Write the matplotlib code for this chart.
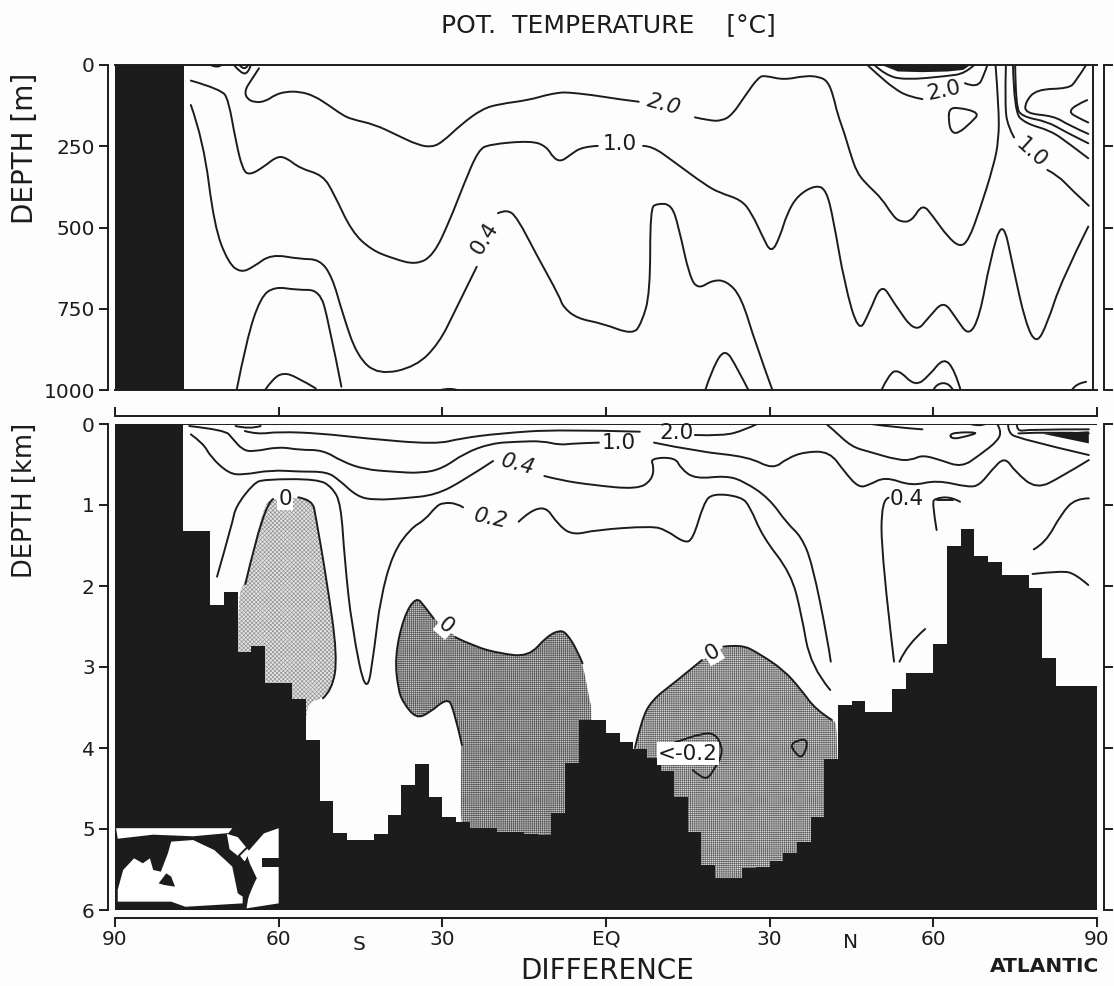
import numpy as np
import matplotlib
matplotlib.use('Agg')
import matplotlib.pyplot as plt
from matplotlib.path import Path
from matplotlib.patches import PathPatch

plt.rcParams['hatch.linewidth'] = 0.45

BLACK = '#1c1c1c'
LW = 1.4

# 해저 지형 (2.5도 격자, km)
floor_km = [0, 0, 0, 0, 0, 1.32, 1.32, 2.23, 2.07, 2.82, 2.74, 3.2, 3.2, 3.4, 3.9, 4.65, 5.05, 5.14, 5.14, 5.06,
            4.83, 4.46, 4.2, 4.6, 4.85, 4.91, 4.99, 4.99, 5.04, 5.04, 5.06, 5.07, 4.8, 4.19, 3.65, 3.65, 3.82, 3.93,
            4.01, 4.12, 4.28, 4.6, 5.04, 5.44, 5.6, 5.6, 5.48, 5.47, 5.4, 5.3, 5.16, 4.85, 4.14, 3.47, 3.42, 3.56,
            3.56, 3.27, 3.07, 3.07, 2.71, 1.5, 1.3, 1.63, 1.7, 1.87, 1.87, 2.02, 2.89, 3.23, 3.23, 3.23]
floor_edges = np.arange(-90, 90.1, 2.5)
land_top_lat = [-90, -77.3]

# 위쪽 패널 (0-1000 m)
t20a_lat = [-63.6, -65, -66.2, -65.9, -64.3, -62.3, -60.7, -58.7, -56.1, -53.5, -50.9, -48.3, -46.6, -42.4, -38.4, -34.5, -31.9, -29.9, -26.7, -22.7, -19.5, -14.2, -10.9, -8.5, -7.2, -2.6, 2.6, 6]
t20a_dep = [10, 46, 77, 103, 116, 111, 92, 82, 82, 95, 123, 154, 167, 183, 215, 246, 253, 236, 185, 135, 120, 108, 92, 85, 84, 92, 106, 113]
t20b_lat = [16.3, 18.9, 21.2, 23.1, 25.4, 28, 29.3, 32.6, 36.5, 39.1, 40.7, 41.7, 42.4, 43.7, 44.6, 46, 48.2, 50.5, 52.5, 53.8, 56, 58, 60, 62.6, 64.9, 66.5, 68.5, 71, 72, 72, 71.4]
t20b_dep = [161, 171, 172, 154, 97, 36, 33, 46, 33, 36, 51, 97, 149, 210, 262, 333, 374, 410, 462, 482, 482, 426, 467, 528, 561, 538, 446, 313, 231, 128, 0]
t10a_lat = [-76.1, -70.5, -69.2, -67.9, -66.6, -65.3, -62.7, -60.4, -58.7, -56.1, -51.9, -49.9, -46.6, -43, -39.1, -34.8, -31.6, -28.6, -26, -23.4, -21.4, -13.6, -10.9, -9.6, -8.2, -6.6, -4.3, -1.5]
t10a_dep = [48, 75, 108, 231, 323, 339, 313, 282, 284, 318, 339, 395, 513, 569, 595, 615, 585, 477, 364, 262, 244, 233, 251, 287, 297, 277, 251, 249]
t10b_lat = [6.8, 8.4, 12.4, 18.2, 20.8, 24.8, 26.7, 28.7, 30.3, 31.9, 33.2, 35.2, 38.5, 40.4, 41.7, 43.7, 46.3, 48.2, 50.5, 52.8, 56.7, 59.3, 61.9, 64.2, 66.5, 68.5, 70.4, 72.7, 74.6, 76.9, 78.9, 80.9, 83.5, 88.4]
t10b_dep = [249, 249, 297, 369, 393, 415, 456, 528, 580, 528, 456, 400, 369, 385, 477, 672, 825, 764, 670, 733, 825, 774, 725, 780, 835, 774, 600, 470, 620, 795, 860, 795, 662, 497]
t04a_lat = [-76.1, -73.8, -71.8, -69.2, -66.9, -64.6, -61.4, -56.1, -52.5, -50.2, -48.3, -45.6, -41.7, -34.8, -30.6, -27.6, -23.7]
t04a_dep = [123, 231, 497, 610, 639, 621, 582, 597, 598, 651, 764, 897, 954, 928, 856, 754, 621]
t04b_lat = [-19.8, -18.1, -16.2, -12.9, -8.5, -7.9, -5.3, -0.7, 4.9, 6.5, 8.1, 8.1, 9.4, 12, 13.3, 15.3, 16.9, 19.5, 22.1, 24.8, 27.4, 30.5]
t04b_dep = [456, 443, 472, 579, 713, 744, 780, 795, 830, 795, 703, 441, 426, 429, 497, 651, 690, 662, 664, 713, 857, 1000]
t02a_lat = [-67.7, -65.9, -63.3, -60.7, -56.8, -52.5, -50.9, -48.5]
t02a_dep = [1000, 846, 713, 682, 692, 692, 785, 990]
t00a_lat = [-62.5, -61, -59.1, -56.8, -53.2]
t00a_dep = [1000, 964, 947, 959, 995]
t00b_lat = [-30.3, -28.6, -27.3]
t00b_dep = [1000, 993, 1000]
t_s1_lat = [-72.5, -71.2, -70.5]
t_s1_dep = [0, 10, 0]
t_s2_lat = [-68.2, -66.9, -65.6, -65.1]
t_s2_dep = [0, 26, 26, 0]
t_s3_lat = [-67.2, -66.2, -65.6]
t_s3_dep = [0, 20, 0]
t_r1_lat = [18.2, 19.5, 21.8, 24.1, 26.1]
t_r1_dep = [1000, 934, 870, 934, 1000]
t_r2_lat = [50.5, 51.8, 53.5, 56.7, 59.3, 61.9, 63.9, 65]
t_r2_dep = [1000, 954, 935, 990, 954, 900, 938, 1000]
t_r3_lat = [60, 60.6, 62.9, 63.6]
t_r3_dep = [1000, 980, 978, 1000]
t_r4_lat = [85.4, 86.1, 88]
t_r4_dep = [1000, 980, 975]
t_n1_lat = [47.9, 49.9, 52.8, 55.4, 58]
t_n1_dep = [0, 31, 72, 97, 105]
t_n2_lat = [65.8, 68.1, 69.4, 69.9]
t_n2_dep = [56, 72, 26, 0]
t_n3_lat = [49.2, 51.2, 54.8, 62.6, 65.8, 67.5]
t_n3_dep = [0, 31, 46, 34, 26, 0]
t_blob_lat = [50.5, 53.5, 58, 62.6, 65.5, 66.8]
t_blob_dep = [0, 20, 22, 20, 15, 0]
t_tri_lat = [62.9, 64.5, 68.5, 67.1, 64.5, 63.2, 62.8, 62.9]
t_tri_dep = [135, 130, 147, 174, 212, 205, 169, 135]
t_f1_lat = [73.3, 73.1, 73.7, 74.8]
t_f1_dep = [0, 128, 190, 223]
t_f2_lat = [75, 75.1, 76.3, 80.9, 84.1, 88.4]
t_f2_dep = [0, 128, 159, 174, 205, 241]
t_f3_lat = [74.6, 74.8, 76.9, 81.5, 84.8, 88.4]
t_f3_dep = [0, 144, 180, 202, 241, 287]
t_f4_lat = [88, 86.1, 84.8, 78.9, 76.9, 76.8, 82.1, 84.8, 88.4]
t_f4_dep = [0, 51, 72, 75, 113, 149, 157, 185, 212]
t_f5_lat = [88.2, 86.1, 84.9, 86.1, 88.4]
t_f5_dep = [108, 123, 144, 159, 177]
t_f6_lat = [80.9, 82.8, 85.4, 88.5]
t_f6_dep = [323, 339, 385, 433]

# 아래쪽 패널 (0-6 km)
b20a_lat = [-66.2, -64, -60, -52.2, -44.3, -31.2, -26.6, -19.5, -8.5, 6.2]
b20a_km = [.087, .128, .095, .116, .177, .251, .177, .116, .066, .095]
b20b_lat = [16.3, 21.5, 25.4, 27.7]
b20b_km = [.136, .148, .074, 0]
b20c_lat = [40.4, 41.7, 45, 48.2, 53.5, 56, 58, 61.3, 65.2, 68.5, 72, 72.4, 71.7]
b20c_km = [0, .074, .28, .342, .445, .445, .383, .445, .535, .383, .198, .074, 0]
b10a_lat = [-76.4, -69.8, -68.5, -66.6, -64.6, -60, -56.1, -51.9, -48.3, -44.3, -39.1, -33.8, -29.9, -26, -21.1, -16.2, -11.6, -8.5, -5.9, -1.3]
b10a_km = [.025, .074, .177, .321, .342, .28, .321, .321, .465, .56, .589, .609, .548, .362, .239, .218, .21, .26, .239, .23]
b10b_lat = [8.8, 16.9, 26.1, 30.6, 33.2, 36.5, 41, 43.7, 46.3, 48.2, 51.2, 56, 60.6, 66.5, 68.5, 70.7, 73.1, 75, 78.9, 83.5, 88.5]
b10b_km = [.23, .342, .404, .56, .424, .342, .342, .589, .786, .753, .65, .766, .692, .782, .753, .568, .404, .589, .807, .65, .445]
b04a_lat = [-76.1, -73.8, -72.5, -69.2, -66.6, -61.4, -56.1, -51.2, -48.9, -45.6, -42.4, -37.1, -31.2, -26, -20.7]
b04a_km = [.128, .239, .404, .609, .63, .568, .589, .589, .692, .897, .939, .918, .877, .692, .457]
b04b_lat = [-11.3, -8.5, -2.6, 5.8, 8.4, 8.8, 8.1, 12.7, 13.7, 16.3, 22.1, 25.4, 29.9, 33.2, 35.8, 37.8, 40.7, 41.2]
b04b_km = [.642, .692, .753, .807, .692, .527, .424, .412, .548, .679, .638, .712, .918, 1.227, 1.391, 1.72, 2.688, 2.934]
b02a_lat = [-71.3, -68.5, -67.9, -64.6, -62.7, -52.8, -50.2, -48.6, -47.9, -46.6, -43.9, -42.4, -41.4, -39.1, -35.8, -33.2, -31.2, -29.9, -27.3, -26.2]
b02a_km = [1.885, 1.227, 1.021, .733, .683, .679, .782, .98, 1.679, 2.502, 3.4, 2.749, 2.173, 1.597, 1.288, 1.185, 1.021, .971, .98, 1.029]
b02b_lat = [-16, -11.9, -8.5, -5.9, -2, 8.4, 11, 14.3, 15.9, 17.9, 19.5, 24.8, 26.4, 28.7, 33.9, 35.8, 37.5, 41.1]
b02b_km = [1.206, .94, 1.268, 1.371, 1.309, 1.26, 1.309, 1.465, 1.432, .98, .856, .897, 1.021, 1.391, 1.844, 2.337, 2.996, 3.284]
b_n1_lat = [52.8, 50.5, 50.5, 51.8]
b_n1_km = [2.934, 1.638, .93, .91]
b_n2_lat = [60.6, 59.8, 60.3, 63.2, 64.9]
b_n2_km = [1.309, .98, .918, .897, .96]
b_n3_lat = [60.6, 63.6]
b_n3_km = [.938, .938]
b_n4_lat = [53.8, 55.1, 58.5]
b_n4_km = [2.934, 2.73, 2.531]
b_n5_lat = [78.4, 80.5, 83.5, 86.1, 88.5]
b_n5_km = [1.548, 1.473, 1.103, .918, .918]
b_n6_lat = [78.2, 83.5, 86.1, 88.4]
b_n6_km = [1.852, 1.811, 1.852, 1.988]
b_n7_lat = [73.7, 73.7, 75.3, 88.5]
b_n7_km = [0, .095, .177, .383]
b_n8_lat = [62.9, 64.2, 68.5, 65.8, 63.6, 62.9]
b_n8_km = [.136, .103, .103, .157, .186, .136]
b_n9_lat = [66.8, 68.5, 69.5]
b_n9_km = [0, .03, 0]
b_n10_lat = [48.6, 52.8, 58]
b_n10_km = [0, .041, .066]
b_n11_lat = [75.3, 75.3, 77.6, 88.5]
b_n11_km = [0, .095, .066, .066]
b_n12_lat = [75.6, 82.1, 88.5]
b_n12_km = [.116, .095, .116]
b_n13_lat = [-67.9, -65.3, -63.3]
b_n13_km = [.025, .066, .025]
b_blob_lat = [80, 88.5, 88.5]
b_blob_km = [.12, .09, .24]
b_low_lat = [10.4, 13, 17.6, 19.9, 21.2, 21.2, 19.9, 18.6, 16.9, 15.9]
b_low_km = [3.984, 3.922, 3.82, 3.82, 3.963, 4.107, 4.251, 4.39, 4.333, 4.272]
b_tri_lat = [33.9, 34.9, 36.8, 36.8, 35.8, 34.5, 33.9]
b_tri_km = [3.963, 3.91, 3.89, 4.004, 4.13, 4.045, 3.963]

# 0도 등온선과 음영
z1a_lat = [-66.1, -62.7, -61]
z1a_km = [1.976, .98, .926]
z1b_lat = [-56.4, -53.8, -53.2, -51.2, -49.2, -50.2, -51.9]
z1b_km = [.905, .938, 1.144, 1.926, 2.873, 3.284, 3.387]
z1_close_lat = [-55, -55, -67.5, -67.5]
z1_close_km = [3.45, 3.95, 3.95, 2.07]
z2a_lat = [-26.4, -28, -29.2, -32.5, -34.8, -37.1, -38.1, -38.7, -37.1, -34.8, -33.2, -31.6]
z2a_km = [3.963, 3.49, 3.387, 3.572, 3.634, 3.449, 3.284, 2.873, 2.379, 2.13, 2.255, 2.4]
z2b_lat = [-27.6, -24, -19.5, -14.2, -10.9, -8.5, -7.2, -5.3, -4.3]
z2b_km = [2.634, 2.749, 2.832, 2.873, 2.626, 2.544, 2.585, 2.79, 2.955]
z2_close_lat = [-3, -2.6, -2.6, -26.6, -26.6]
z2_close_km = [3.408, 3.531, 5.5, 5.5, 4.0]
z3a_lat = [5.3, 6.5, 8.4, 12.4, 17.6]
z3a_km = [4.0, 3.654, 3.408, 3.202, 2.914]
z3b_lat = [21.5, 24.8, 28, 32.6, 35.8, 38.5, 41.4]
z3b_km = [2.749, 2.72, 2.832, 3.037, 3.284, 3.531, 3.654]
z3_close_lat = [42.5, 42.5, 5.3]
z3_close_km = [3.7, 5.7, 5.7]

# 작은 지도 (흰 부분)
map_a_lat = [-89.8, -68.5, -69.2, -75.7, -83, -89.5]
map_a_km = [4.99, 4.99, 5.05, 5.09, 5.07, 5.12]
map_b_lat = [-89.5, -88.5, -86.5, -84.9, -83.6, -83, -81.6, -80.3, -79.7, -75.7, -71.8, -69.8, -68.5, -67.5, -66.6, -66.6, -77.1, -79.7, -89.5]
map_b_km = [5.75, 5.506, 5.362, 5.424, 5.362, 5.506, 5.527, 5.3, 5.156, 5.136, 5.26, 5.383, 5.465, 5.794, 5.835, 5.918, 5.96, 5.897, 5.897]
map_c_lat = [-65.9, -62.7, -60, -60, -65.9, -65.3, -64, -65.3]
map_c_km = [5.3, 5.054, 4.99, 5.918, 5.98, 5.75, 5.609, 5.424]
map_d_lat = [-69.5, -67.5, -65.3, -66.2, -69]
map_d_km = [5.06, 5.1, 5.28, 5.4, 5.25]
map_e_lat = [-82, -80.6, -79.7, -79, -81]
map_e_km = [5.671, 5.547, 5.588, 5.712, 5.691]
map_f_lat = [-63, -60, -60, -63]
map_f_km = [5.362, 5.362, 5.465, 5.465]
map_track_lat = [-62.7, -67.3, -64.3, -66.6]
map_track_km = [5.02, 5.33, 5.61, 5.98]

top_lines = [(t20a_lat, t20a_dep), (t20b_lat, t20b_dep), (t10a_lat, t10a_dep), (t10b_lat, t10b_dep),
             (t04a_lat, t04a_dep), (t04b_lat, t04b_dep), (t02a_lat, t02a_dep), (t00a_lat, t00a_dep),
             (t00b_lat, t00b_dep), (t_s1_lat, t_s1_dep), (t_s2_lat, t_s2_dep), (t_s3_lat, t_s3_dep),
             (t_r1_lat, t_r1_dep), (t_r2_lat, t_r2_dep), (t_r3_lat, t_r3_dep), (t_r4_lat, t_r4_dep),
             (t_n1_lat, t_n1_dep), (t_n2_lat, t_n2_dep), (t_n3_lat, t_n3_dep), (t_tri_lat, t_tri_dep),
             (t_f1_lat, t_f1_dep), (t_f2_lat, t_f2_dep), (t_f3_lat, t_f3_dep), (t_f4_lat, t_f4_dep),
             (t_f5_lat, t_f5_dep), (t_f6_lat, t_f6_dep)]
bottom_lines = [(b20a_lat, b20a_km), (b20b_lat, b20b_km), (b20c_lat, b20c_km), (b10a_lat, b10a_km),
                (b10b_lat, b10b_km), (b04a_lat, b04a_km), (b04b_lat, b04b_km), (b02a_lat, b02a_km),
                (b02b_lat, b02b_km), (b_n1_lat, b_n1_km), (b_n2_lat, b_n2_km), (b_n3_lat, b_n3_km),
                (b_n4_lat, b_n4_km), (b_n5_lat, b_n5_km), (b_n6_lat, b_n6_km), (b_n7_lat, b_n7_km),
                (b_n8_lat, b_n8_km), (b_n9_lat, b_n9_km), (b_n10_lat, b_n10_km), (b_n11_lat, b_n11_km),
                (b_n12_lat, b_n12_km), (b_n13_lat, b_n13_km), (b_low_lat, b_low_km), (b_tri_lat, b_tri_km),
                (z1a_lat, z1a_km), (z1b_lat, z1b_km), (z2a_lat, z2a_km), (z2b_lat, z2b_km),
                (z3a_lat, z3a_km), (z3b_lat, z3b_km)]

x_ticks = [-90, -60, -30, 0, 30, 60, 90]
x_labels = ['90', '60', '30', 'EQ', '30', '60', '90']
top_ticks = [0, 250, 500, 750, 1000]
bottom_ticks = [0, 1, 2, 3, 4, 5, 6]


def curve_path(x, y, closed=False):
    # 읽은 점들을 제어점으로 쓰는 곡선 (플로터 선처럼 모서리만 둥글게)
    pts = np.column_stack([x, y]).astype(float)
    if closed or (pts[0] == pts[-1]).all():
        if (pts[0] == pts[-1]).all():
            pts = pts[:-1]
        mids = (pts + np.roll(pts, -1, axis=0)) / 2
        verts = [mids[-1]]
        for p, m in zip(pts, mids):
            verts += [p, m]
    else:
        verts = [pts[0]]
        for i in range(1, len(pts) - 1):
            end = pts[i + 1] if i == len(pts) - 2 else (pts[i] + pts[i + 1]) / 2
            verts += [pts[i], end]
        if len(pts) == 2:
            verts.append(pts[1])
            return Path(verts)
    codes = [Path.MOVETO] + [Path.CURVE3] * (len(verts) - 1)
    return Path(verts, codes)


def draw_curve(ax, x, y, zorder=3):
    ax.add_patch(PathPatch(curve_path(x, y), fill=False, edgecolor=BLACK, lw=LW, capstyle='round', zorder=zorder))


W, H = 1114, 986
fig = plt.figure(figsize=(W / 100, H / 100), dpi=100, facecolor='#fdfdfd')
ax1 = fig.add_axes([115 / W, 1 - 390 / H, 982 / W, 325 / H])
ax2 = fig.add_axes([115 / W, 1 - 910 / H, 982 / W, 486 / H])

for ax in (ax1, ax2):
    ax.set_xlim(-90, 90)
    ax.set_facecolor('none')
    ax.spines['left'].set_position(('outward', 5))
    ax.spines['right'].set_position(('outward', 5))
    for s in ax.spines.values():
        s.set_linewidth(LW)
        s.set_color(BLACK)
    ax.tick_params(axis='y', which='both', length=6.5, width=LW, color=BLACK, labelsize=14.5,
                   labelcolor=BLACK, right=True, pad=3)

# 위쪽 패널
ax1.set_ylim(1000, 0)
ax1.fill_between(land_top_lat, 0, 1000, color=BLACK, lw=0)
for lat, dep in top_lines:
    draw_curve(ax1, lat, dep)
ax1.fill(t_blob_lat, t_blob_dep, color=BLACK, lw=0)
ax1.axvline(89.3, color=BLACK, lw=LW)
ax1.set_xticks([])
ax1.set_yticks(top_ticks)

# 아래쪽 패널
ax2.set_ylim(6, 0)
ax2.add_patch(PathPatch(curve_path(z1a_lat + z1b_lat + z1_close_lat, z1a_km + z1b_km + z1_close_km, closed=True),
                        facecolor='#e4e4e4', edgecolor='#8f8f8f', hatch='xxxxxxxx', lw=0, zorder=1))
ax2.add_patch(PathPatch(curve_path(z2a_lat + z2b_lat + z2_close_lat, z2a_km + z2b_km + z2_close_km, closed=True),
                        facecolor='#cccccc', edgecolor='#555555', hatch='++++++++', lw=0, zorder=1))
ax2.add_patch(PathPatch(curve_path(z3a_lat + z3b_lat + z3_close_lat, z3a_km + z3b_km + z3_close_km, closed=True),
                        facecolor='#dadada', edgecolor='#606060', hatch='++++++++', lw=0, zorder=1))
ax2.stairs(floor_km, floor_edges, baseline=6, fill=True, color=BLACK, lw=0, zorder=2)
for lat, km in bottom_lines:
    draw_curve(ax2, lat, km)
ax2.fill(b_blob_lat, b_blob_km, color=BLACK, lw=0, zorder=3)
ax2.axhline(0, color=BLACK, lw=LW, zorder=3)

for lat, km in [(map_a_lat, map_a_km), (map_b_lat, map_b_km), (map_c_lat, map_c_km), (map_d_lat, map_d_km)]:
    ax2.fill(lat, km, color='white', lw=0, zorder=4)
for lat, km in [(map_e_lat, map_e_km), (map_f_lat, map_f_km)]:
    ax2.fill(lat, km, color=BLACK, lw=0, zorder=5)
ax2.plot(map_track_lat, map_track_km, color=BLACK, lw=1.4, zorder=5)

ax2.spines['bottom'].set_position(('outward', 5.8))
ax2.spines['top'].set_position(('outward', 5.8))
ax2.set_xticks(x_ticks, x_labels)
ax2.tick_params(axis='x', length=6.5, width=LW, color=BLACK, labelsize=14.5, labelcolor=BLACK, top=True, pad=2)
ax2.set_yticks(bottom_ticks)

# 곡선 라벨
lab = dict(color=BLACK, fontsize=15.5, ha='center', va='center', zorder=6)
ax1.text(10.7, 121, '2.0', rotation=-15, style='italic', **lab)
ax1.text(2.6, 243, '1.0', **lab)
ax1.text(-22.2, 533, '0.4', rotation=58, **lab)
ax1.text(62, 80, '2.0', rotation=12, **lab)
ax1.text(77.9, 272, '1.0', rotation=-42, **lab)
ax2.text(12.9, .116, '2.0', **lab)
ax2.text(2.4, .239, '1.0', **lab)
ax2.text(-16.2, .506, '0.4', rotation=-15, style='italic', **lab)
ax2.text(-21.1, 1.165, '0.2', rotation=-12, style='italic', **lab)
ax2.text(55.1, .93, '0.4', **lab)
white = dict(facecolor='white', edgecolor='none', pad=1.0)
ax2.text(-58.8, .926, '0', bbox=white, **lab)
ax2.text(-29.3, 2.494, '0', rotation=-40, bbox=white, **lab)
ax2.text(19.5, 2.82, '0', rotation=30, bbox=white, **lab)
ax2.text(15, 4.07, '<-0.2', bbox=white, **lab)

# 제목과 축 이름
fig.text(608 / W, 1 - 25 / H, 'POT.  TEMPERATURE    [°C]', fontsize=18, color=BLACK, ha='center', va='center')
fig.text(25 / W, 1 - 148 / H, 'DEPTH [m]', fontsize=20, color=BLACK, rotation=90, ha='center', va='center')
fig.text(25 / W, 1 - 500 / H, 'DEPTH [km]', fontsize=18.5, color=BLACK, rotation=90, ha='center', va='center')
fig.text(607 / W, 1 - 971 / H, 'DIFFERENCE', fontsize=20, color=BLACK, ha='center', va='center')
fig.text(1045 / W, 1 - 967 / H, 'ATLANTIC', fontsize=14.5, fontweight='bold', color=BLACK, ha='center', va='center')
fig.text(359 / W, 1 - 945 / H, 'S', fontsize=14.5, color=BLACK, ha='center', va='center')
fig.text(851 / W, 1 - 942 / H, 'N', fontsize=14.5, color=BLACK, ha='center', va='center')

fig.savefig('out.png', dpi=100, facecolor=fig.get_facecolor())
